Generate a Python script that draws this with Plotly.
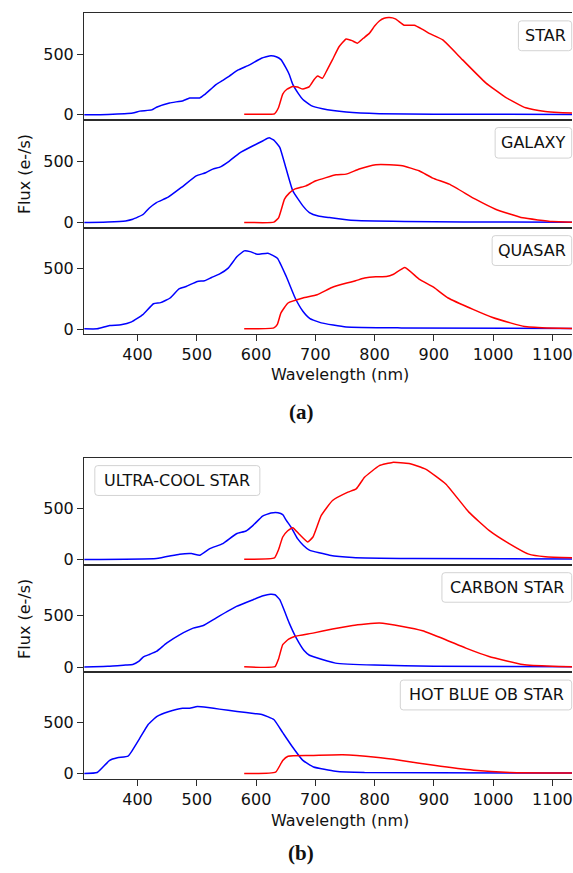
import plotly.graph_objects as go

W, H = 573, 873

# ---------------- data (wavelength nm, flux e-/s) ----------------
star_blue_wl = [310, 350, 392, 404, 424, 432, 454, 477, 488, 505, 513, 533, 544, 555, 569, 589, 609, 625, 634, 642, 650, 656, 662, 672, 679, 693, 712, 752, 808, 900, 1000, 1133]
star_blue = [0, 3, 14, 30, 40, 62, 97, 116, 138, 138, 165, 251, 284, 319, 367, 411, 465, 486, 478, 454, 390, 332, 250, 170, 125, 75, 49, 22, 8, 5, 4, 3]
star_red_wl = [580, 620, 631, 638, 645, 652, 662, 670, 679, 690, 698, 704, 712, 720, 729, 740, 752, 762, 771, 781, 791, 800, 808, 816, 825, 835, 850, 867, 880, 892, 915, 948, 987, 1021, 1055, 1088, 1110, 1133]
star_red = [5, 5, 8, 60, 170, 210, 232, 228, 211, 232, 290, 319, 300, 370, 454, 560, 624, 610, 589, 630, 670, 730, 772, 795, 800, 790, 737, 737, 705, 670, 616, 454, 265, 143, 57, 27, 18, 14]

gal_blue_wl = [310, 350, 380, 392, 410, 420, 432, 451, 474, 499, 515, 527, 538, 555, 572, 595, 612, 622, 630, 640, 650, 662, 679, 690, 705, 724, 760, 850, 950, 1133]
gal_blue = [2, 6, 15, 28, 69, 120, 164, 205, 286, 380, 405, 435, 449, 500, 565, 624, 665, 688, 670, 611, 450, 258, 137, 83, 55, 42, 20, 10, 6, 4]
gal_red_wl = [580, 630, 638, 648, 656, 665, 684, 701, 735, 752, 774, 802, 825, 847, 875, 898, 926, 970, 1004, 1050, 1100, 1133]
gal_red = [3, 5, 40, 191, 240, 272, 299, 340, 389, 394, 435, 470, 470, 462, 421, 362, 313, 191, 110, 40, 10, 5]

qso_blue_wl = [310, 332, 353, 372, 390, 409, 427, 439, 455, 470, 482, 501, 513, 525, 538, 553, 568, 580, 590, 602, 620, 636, 651, 666, 679, 691, 710, 752, 845, 1133]
qso_blue = [3, 3, 30, 36, 60, 120, 210, 219, 257, 333, 352, 393, 399, 426, 453, 503, 598, 645, 639, 617, 626, 585, 434, 257, 148, 87, 52, 19, 11, 5]
qso_red_wl = [580, 630, 636, 642, 654, 679, 703, 728, 753, 768, 783, 802, 820, 832, 851, 875, 900, 924, 967, 998, 1029, 1053, 1090, 1133]
qso_red = [3, 11, 40, 134, 216, 257, 284, 344, 380, 399, 421, 432, 434, 453, 508, 413, 344, 257, 161, 98, 52, 22, 11, 5]

ucs_blue_wl = [310, 432, 471, 491, 505, 522, 544, 567, 583, 595, 611, 625, 637, 645, 651, 659, 670, 680, 690, 724, 763, 864, 1133]
ucs_blue = [3, 13, 55, 61, 45, 109, 158, 254, 280, 335, 425, 455, 458, 440, 384, 319, 206, 140, 94, 45, 23, 13, 8]
ucs_red_wl = [580, 631, 638, 645, 653, 662, 673, 687, 696, 710, 729, 755, 769, 783, 808, 830, 858, 886, 920, 959, 993, 1027, 1060, 1088, 1133]
ucs_red = [6, 19, 100, 222, 280, 313, 248, 174, 222, 432, 577, 658, 690, 803, 916, 948, 938, 883, 738, 464, 287, 158, 55, 29, 19]

carb_blue_wl = [310, 350, 380, 392, 402, 410, 421, 432, 449, 471, 494, 511, 533, 567, 595, 612, 624, 632, 640, 656, 668, 681, 690, 697, 734, 800, 900, 1133]
carb_blue = [2, 8, 20, 25, 55, 100, 125, 152, 232, 313, 377, 403, 477, 587, 652, 690, 705, 700, 652, 426, 280, 160, 115, 100, 39, 20, 10, 5]
carb_red_wl = [580, 632, 638, 645, 655, 665, 696, 729, 763, 808, 847, 881, 920, 954, 993, 1050, 1100, 1133]
carb_red = [3, 5, 80, 217, 270, 297, 329, 368, 403, 426, 394, 352, 265, 184, 103, 25, 8, 5]

ob_blue_wl = [310, 332, 353, 366, 384, 390, 403, 418, 433, 452, 476, 488, 501, 519, 538, 568, 599, 611, 630, 645, 660, 679, 697, 734, 783, 1133]
ob_blue = [4, 13, 131, 156, 172, 217, 338, 481, 560, 605, 639, 639, 656, 646, 630, 608, 586, 576, 529, 401, 274, 131, 67, 26, 13, 8]
ob_red_wl = [580, 633, 645, 654, 691, 746, 802, 845, 900, 967, 1029, 1133]
ob_red = [4, 17, 131, 172, 178, 185, 162, 131, 83, 35, 13, 8]

labels = ["STAR", "GALAXY", "QUASAR", "ULTRA-COOL STAR", "CARBON STAR", "HOT BLUE OB STAR"]
series = [
    (star_blue_wl, star_blue, star_red_wl, star_red),
    (gal_blue_wl, gal_blue, gal_red_wl, gal_red),
    (qso_blue_wl, qso_blue, qso_red_wl, qso_red),
    (ucs_blue_wl, ucs_blue, ucs_red_wl, ucs_red),
    (carb_blue_wl, carb_blue, carb_red_wl, carb_red),
    (ob_blue_wl, ob_blue, ob_red_wl, ob_red),
]
x_ticks = [400, 500, 600, 700, 800, 900, 1000, 1100]
y_ticks = [0, 500]

# ---------------- layout geometry (pixels) ----------------
panels_px = [(13.3, 120.3), (120.3, 229), (229, 336), (460.7, 568), (568, 676), (676, 783.3)]
yranges = [[-40, 836]] * 3 + [[-48, 990]] * 3
XL = 84.3
xdom = [XL / W, 1.0]
FONT = "DejaVu Sans"
LINE_C = "#2b2b2b"

def py(p):
    return 1 - p / H

def px(p):
    return p / W

fig = go.Figure()
layout = dict(
    width=W, height=H, margin=dict(l=0, r=0, t=0, b=0),
    paper_bgcolor="white", plot_bgcolor="white", showlegend=False,
    font=dict(family=FONT, size=16, color="#111"),
)

for i, ((bw, bf, rw, rf), (top, bot)) in enumerate(zip(series, panels_px)):
    n = i + 1
    xa = f"x{n}" if n > 1 else "x"
    ya = f"y{n}" if n > 1 else "y"
    fig.add_trace(go.Scatter(x=bw, y=bf, mode="lines",
                             line=dict(color="#0000ff", width=1.5, shape="spline", smoothing=0.4),
                             xaxis=xa, yaxis=ya))
    fig.add_trace(go.Scatter(x=rw, y=rf, mode="lines",
                             line=dict(color="#ff0000", width=1.5, shape="spline", smoothing=0.4),
                             xaxis=xa, yaxis=ya))
    bottom = n in (3, 6)
    layout[f"xaxis{n if n > 1 else ''}"] = dict(
        domain=xdom, range=[310, 1133], anchor=ya, showgrid=False, zeroline=False,
        showline=True, mirror=True, linecolor=LINE_C, linewidth=1.3,
        tickvals=x_ticks if bottom else [], ticks="outside" if bottom else "",
        ticklen=6, tickcolor=LINE_C, tickwidth=1.2, showticklabels=bottom,
        ticklabeloverflow="allow",
        tickfont=dict(family=FONT, size=16, color="#111"),
    )
    layout[f"yaxis{n if n > 1 else ''}"] = dict(
        domain=[py(bot), py(top)], range=yranges[i], anchor=xa, showgrid=False, zeroline=False,
        showline=True, linecolor=LINE_C, linewidth=1.3,
        tickvals=y_ticks, ticks="outside", ticklen=6, tickcolor=LINE_C, tickwidth=1.2,
        tickfont=dict(family=FONT, size=16, color="#111"),
    )

fig.update_layout(**layout)

# label boxes (pixel boxes)
boxes = [(519.3, 572.7, 21, 51), (496, 572.7, 128.3, 159), (493, 572.7, 237, 267),
         (95, 260.3, 468.3, 498.3), (442.7, 572.7, 576, 605.7), (401, 572.7, 684, 714)]

def rrect(x0, x1, y0, y1, r=3):
    P = lambda a, b: f"{px(a):.5f},{py(b):.5f}"
    return (f"M {P(x0 + r, y0)} L {P(x1 - r, y0)} Q {P(x1, y0)} {P(x1, y0 + r)} "
            f"L {P(x1, y1 - r)} Q {P(x1, y1)} {P(x1 - r, y1)} L {P(x0 + r, y1)} "
            f"Q {P(x0, y1)} {P(x0, y1 - r)} L {P(x0, y0 + r)} Q {P(x0, y0)} {P(x0 + r, y0)} Z")

for lab, (x0, x1, y0, y1) in zip(labels, boxes):
    fig.add_shape(type="path", path=rrect(x0, x1, y0, y1), xref="paper", yref="paper",
                  line=dict(color="#d3d3d3", width=1), fillcolor="rgba(255,255,255,0.8)", layer="above")
    fig.add_annotation(text=lab, x=px((x0 + x1) / 2), y=py((y0 + y1) / 2), xref="paper", yref="paper",
                       showarrow=False, xanchor="center", yanchor="middle",
                       font=dict(family=FONT, size=16, color="#111"))

# axis titles and panel tags
for yl, xl_y, tag, tag_y in [((13.3 + 336) / 2, 377, "(a)", 414), ((460.7 + 783.3) / 2, 825, "(b)", 858)]:
    fig.add_annotation(text="Flux (e-/s)", x=px(24.5), y=py(yl), xref="paper", yref="paper",
                       showarrow=False, textangle=-90, xanchor="center", yanchor="middle",
                       font=dict(family=FONT, size=16, color="#111"))
    fig.add_annotation(text="Wavelength (nm)", x=px(340.4), y=py(xl_y), xref="paper", yref="paper",
                       showarrow=False, xanchor="center", yanchor="middle",
                       font=dict(family=FONT, size=16, color="#111"))
    fig.add_annotation(text=f"<b>{tag}</b>", x=px(302), y=py(tag_y), xref="paper", yref="paper",
                       showarrow=False, xanchor="center", yanchor="middle",
                       font=dict(family="Liberation Serif", size=21, color="#111"))

fig.write_html("out.html", config={"displayModeBar": False},
               post_script="document.body.style.margin='0';document.body.style.overflow='hidden';")
